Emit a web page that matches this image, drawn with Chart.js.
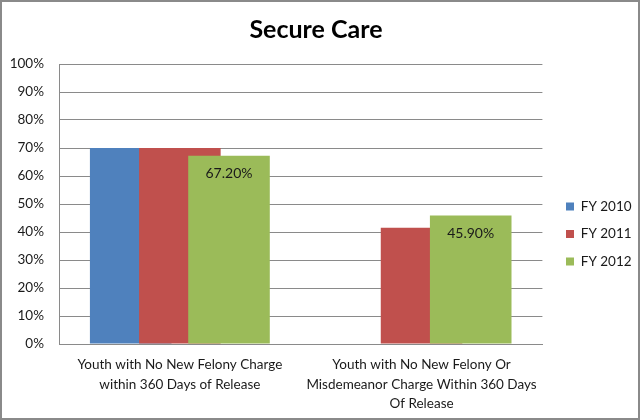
<!DOCTYPE html>
<html>
<head>
<meta charset="utf-8">
<script src="https://cdn.jsdelivr.net/npm/chart.js@4"></script>
<style>
  html, body { margin: 0; padding: 0; background: #fff; }
  #wrap { width: 640px; height: 420px; }
</style>
</head>
<body>
<div id="wrap"><canvas id="secureCareChart" width="640" height="420"></canvas></div>
<script>
// data
const categories = [
    ['Youth with No New Felony Charge', 'within 360 Days of Release'],
    ['Youth with No New Felony Or', 'Misdemeanor Charge Within 360 Days', 'Of Release']
];
const fy2010 = [70, null];
const fy2011 = [70, 41.5];
const fy2012 = [67.2, 45.9];
const yTicks = [0, 10, 20, 30, 40, 50, 60, 70, 80, 90, 100];

const FONT = 'Lato, "Open Sans", sans-serif';

// Excel overlaps the bars with the later series on top,
// Chart.js would put the first one on top, so draw them in index order here
const drawOrder = {
    id: 'drawOrder',
    beforeDatasetsDraw(chart) {
        for (let i = 0; i < chart.data.datasets.length; i++) {
            chart._drawDataset(chart.getDatasetMeta(i));
        }
        return false;
    }
};

// value labels on the FY 2012 bars, just inside the top
const barLabels = {
    id: 'barLabels',
    afterDraw(chart) {
        const ctx = chart.ctx;
        const meta = chart.getDatasetMeta(2);
        ctx.save();
        ctx.font = '14px ' + FONT;
        ctx.fillStyle = '#1a1a1a';
        ctx.textAlign = 'center';
        ctx.textBaseline = 'middle';
        meta.data.forEach((bar, i) => {
            ctx.fillText(fy2012[i].toFixed(2) + '%', bar.x, bar.y + 18);
        });
        ctx.restore();
    }
};

// outer frame + nudge legend to where Excel put it
const frame = {
    id: 'frame',
    afterLayout(chart) {
        const lg = chart.legend;
        const w = lg.right - lg.left;
        lg.left = 552; lg.right = 552 + w;
        lg.top += 48;
    },
    afterDraw(chart) {
        const ctx = chart.ctx;
        ctx.save();
        ctx.strokeStyle = '#8a8a8a';
        ctx.lineWidth = 2;
        ctx.strokeRect(1, 1, 638, 418);
        ctx.restore();
    }
};

new Chart(document.getElementById('secureCareChart').getContext('2d'), {
    type: 'bar',
    data: {
        labels: categories,
        datasets: [
            { label: 'FY 2010', data: fy2010, backgroundColor: '#4F81BD' },
            { label: 'FY 2011', data: fy2011, backgroundColor: '#C0504D' },
            { label: 'FY 2012', data: fy2012, backgroundColor: '#9BBB59' }
        ]
    },
    options: {
        responsive: false,
        animation: false,
        categoryPercentage: 0.61,
        barPercentage: 1.66,
        layout: { padding: { left: 0, right: 8, top: 0, bottom: 0 } },
        plugins: {
            title: {
                display: true,
                text: 'Secure Care',
                color: '#000',
                font: { family: FONT, size: 25, weight: 'bold', lineHeight: 1.2 },
                padding: { top: 15, bottom: 19 }
            },
            legend: {
                position: 'right',
                labels: {
                    color: '#1a1a1a',
                    font: { family: FONT, size: 13.5 },
                    boxWidth: 8,
                    boxHeight: 8,
                    padding: 14
                }
            },
            tooltip: { enabled: false }
        },
        scales: {
            x: {
                grid: { display: false, drawTicks: false },
                border: { color: '#8a8a8a' },
                ticks: {
                    color: '#1a1a1a',
                    font: { family: FONT, size: 13.5, lineHeight: 1.45 },
                    padding: 11,
                    autoSkip: false,
                    maxRotation: 0
                },
                afterFit(scale) { scale.height = 76; }
            },
            y: {
                min: 0,
                max: 100,
                afterBuildTicks(scale) { scale.ticks = yTicks.map(v => ({ value: v })); },
                grid: { color: '#8a8a8a', drawTicks: false },
                border: { color: '#8a8a8a' },
                ticks: {
                    color: '#1a1a1a',
                    font: { family: FONT, size: 13.5 },
                    padding: 15,
                    callback: v => v + '%'
                },
                afterFit(scale) { scale.width = 59; }
            }
        }
    },
    plugins: [drawOrder, barLabels, frame]
});
</script>
</body>
</html>
